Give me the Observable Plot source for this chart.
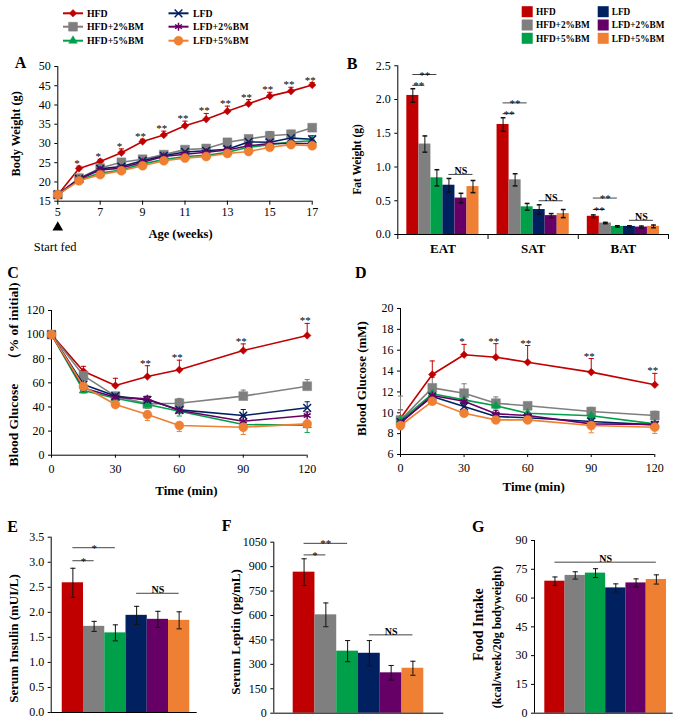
<!DOCTYPE html>
<html><head><meta charset="utf-8">
<script src="https://cdn.jsdelivr.net/npm/d3@7"></script>
<script src="https://cdn.jsdelivr.net/npm/@observablehq/plot@0.6"></script>
<style>
html,body{margin:0;padding:0;background:#fff;}
#fig{position:relative;width:683px;height:724px;font-family:"Liberation Serif","Times New Roman",Times,"DejaVu Serif",serif;overflow:hidden;background:#fff;}
.panel{position:absolute;}
.letter{position:absolute;font-weight:bold;font-size:16px;transform:translate(-50%,-50%);line-height:1;}
</style></head><body><div id="fig"></div>
<script>
// ---------- DATA ----------
const groups = ["HFD","HFD+2%BM","HFD+5%BM","LFD","LFD+2%BM","LFD+5%BM"];
const colors = ["#C00000","#7F7F7F","#00A04A","#002060","#660066","#EE7F33"];

// A: body weight
const weeks = [5,6,7,8,9,10,11,12,13,14,15,16,17];
const bwHFD  = [16.7,23.5,25.3,27.6,30.5,32.2,34.6,36.3,38.4,40.3,42.3,43.6,45.2];
const bwHFD2 = [16.7,21.0,23.6,25.1,25.9,27.1,28.4,28.7,30.3,31.2,32.0,32.4,34.1];
const bwHFD5 = [16.7,20.5,22.3,23.1,24.7,25.8,26.6,26.9,27.7,29.0,29.7,30.4,30.7];
const bwLFD  = [16.7,20.8,23.4,24.0,25.5,26.8,27.8,28.1,28.5,30.4,30.3,31.4,31.1];
const bwLFD2 = [16.7,20.7,23.1,23.6,25.1,26.6,27.2,27.7,28.3,29.4,30.0,30.0,30.0];
const bwLFD5 = [16.7,20.3,21.9,22.9,24.2,25.5,26.2,26.6,27.4,27.9,29.0,29.7,29.4];
const bwErrHFD  = [0.5,0.6,0.6,1.0,0.6,1.0,1.2,1.5,1.3,1.1,1.0,1.0,0.6];
const bwErrHFD2 = [0.5,0.6,0.7,0.7,0.6,0.6,0.6,0.7,0.7,0.7,1.1,1.0,0.8];
const bwErrHFD5 = [0.5,0.5,0.5,0.5,0.5,0.5,0.5,0.5,0.5,0.6,0.6,0.6,0.6];
const bwErrLFD  = [0.5,0.8,0.6,0.6,0.6,0.6,0.6,0.7,0.7,0.7,0.8,0.8,0.9];
const bwErrLFD2 = [0.5,0.6,0.6,0.6,0.6,0.6,0.6,0.6,0.6,0.6,0.7,0.7,0.7];
const bwErrLFD5 = [0.5,0.8,0.7,0.6,0.6,0.6,0.6,0.7,0.7,0.7,0.8,0.8,0.8];
const bwSig = ["","*","*","*","**","**","**","**","**","**","**","**","**"];

// B: fat weight
const fatSites = ["EAT","SAT","BAT"];
const eatMean = [2.06,1.34,0.84,0.73,0.54,0.71];
const eatErr  = [0.10,0.12,0.12,0.10,0.07,0.09];
const satMean = [1.63,0.81,0.41,0.37,0.28,0.31];
const satErr  = [0.10,0.09,0.05,0.07,0.03,0.06];
const batMean = [0.27,0.17,0.12,0.12,0.11,0.12];
const batErr  = [0.02,0.01,0.01,0.01,0.015,0.02];
const fatSigSite  = [0,0,0,1,1,1,2,2,2];
const fatSigFrom  = [0,0,3,0,0,3,0,0,3];
const fatSigTo    = [2,1,5,2,1,5,2,1,5];
const fatSigY     = [2.37,2.21,0.89,1.95,1.79,0.50,0.54,0.37,0.21];
const fatSigLabel = ["**","**","NS","**","**","NS","**","**","NS"];

// C: insulin tolerance
const ittTimes = [0,15,30,45,60,90,120];
const ittHFD  = [100,69.7,57.8,65.2,70.8,86.8,99.3];
const ittHFD2 = [100,66.0,49.0,42.6,43.1,49.0,57.2];
const ittHFD5 = [100,53.6,47.3,42.0,36.5,25.4,24.9];
const ittLFD  = [100,58.6,49.0,45.9,37.6,32.9,39.3];
const ittLFD2 = [100,55.8,48.0,46.7,37.0,28.2,32.9];
const ittLFD5 = [100,57.0,42.0,33.7,24.6,23.2,26.0];
const ittErrHFD  = [0,4,6,9,8,5.5,10];
const ittErrHFD2 = [0,4,3,3,4,5,5.5];
const ittErrHFD5 = [0,2,2,3,4,4,6];
const ittErrLFD  = [0,3,3,3,3,5,5];
const ittErrLFD2 = [0,3,2,2,3,4,3];
const ittErrLFD5 = [0,3,2,5,5,6,3];
const ittSig = ["","","","**","**","**","**"];

// D: glucose tolerance
const gttTimes = [0,15,30,45,60,90,120];
const gttHFD  = [9.48,13.67,15.56,15.33,14.85,13.90,12.68];
const gttHFD2 = [9.30,12.39,11.88,10.92,10.67,10.12,9.74];
const gttHFD5 = [9.26,11.82,11.24,10.67,9.96,9.71,8.94];
const gttLFD  = [9.10,11.56,10.60,9.64,9.52,9.16,8.84];
const gttLFD2 = [9.00,11.66,11.10,9.90,9.74,8.94,8.88];
const gttLFD5 = [8.78,11.10,9.96,9.32,9.32,8.78,8.62];
const gttErrHFD  = [0.8,1.3,1.0,1.3,1.6,1.3,1.1];
const gttErrHFD2 = [2.3,1.0,0.9,0.6,0.3,0.4,0.4];
const gttErrHFD5 = [0.4,0.3,0.3,0.3,0.3,0.3,0.3];
const gttErrLFD  = [0.5,0.3,0.3,0.3,0.3,0.3,0.3];
const gttErrLFD2 = [0.4,0.3,0.3,0.3,0.3,0.3,0.3];
const gttErrLFD5 = [0.4,0.3,0.3,0.3,0.3,0.7,0.6];
const gttSig = ["","","*","**","**","**","**"];

// E: insulin
const insulinMean = [2.59,1.72,1.59,1.94,1.86,1.84];
const insulinErr  = [0.29,0.10,0.16,0.18,0.16,0.17];
const insulinSigFrom = [0,0,3], insulinSigTo = [2,1,5];
const insulinSigY = [3.29,3.03,2.38], insulinSigLabel = ["*","*","NS"];
// F: leptin
const leptinMean = [866,604,381,368,248,276];
const leptinErr  = [82,73,65,78,45,43];
const leptinSigFrom = [0,0,3], leptinSigTo = [2,1,5];
const leptinSigY = [1043,972,481], leptinSigLabel = ["**","*","NS"];
// G: food intake
const intakeMean = [68.8,71.8,73.0,65.3,67.9,69.7];
const intakeErr  = [2.2,1.9,2.3,2.1,2.1,2.4];
const intakeSigFrom = [0], intakeSigTo = [5], intakeSigY = [78.7], intakeSigLabel = ["NS"];

// ---------- STYLE CONFIG ----------
const FONT = '"Liberation Serif","Times New Roman",Times,"DejaVu Serif",serif';
const errDir = [1,1,-1,1,1,-1];
const symSpec = [
  {symbol:"diamond2", r:3.4, filled:true},
  {symbol:"square", r:5, filled:true},
  {symbol:"triangle", r:3.2, filled:true},
  {symbol:"times", r:3.6, filled:false},
  {symbol:"asterisk", r:3.8, filled:false},
  {symbol:"circle", r:4.5, filled:true}
];
const capSym = {draw(ctx, size){ const w = Math.sqrt(size/Math.PI); ctx.moveTo(-w,0); ctx.lineTo(w,0); }};
const fig = document.getElementById("fig");

function place(el, left, top){
  const d = document.createElement("div");
  d.className = "panel"; d.style.left = left+"px"; d.style.top = top+"px";
  d.appendChild(el); fig.appendChild(d);
}
function letter(t, x, y){
  const d = document.createElement("div");
  d.className = "letter"; d.textContent = t; d.style.left = x+"px"; d.style.top = y+"px";
  fig.appendChild(d);
}
const baseStyle = {fontFamily: FONT, fontSize: "12px", background: "transparent", overflow: "visible", color: "#000"};

function lineMarks(xs, series, errs, sig){
  const marks = [];
  const all = series.map((vals,g) => vals.map((v,i) => ({x: xs[i], y: v, e: errs[g][i], top: v + errDir[g]*errs[g][i]})));
  all.forEach((rows,g) => {
    marks.push(Plot.ruleX(rows, {x:"x", y1:"y", y2:"top", stroke: colors[g], strokeWidth: 1}));
    marks.push(Plot.dot(rows, {x:"x", y:"top", symbol: capSym, r: 2.6, stroke: colors[g], fill: "none", strokeWidth: 1}));
  });
  all.forEach((rows,g) => {
    marks.push(Plot.line(rows, {x:"x", y:"y", stroke: colors[g], strokeWidth: 1.6}));
    const s = symSpec[g];
    marks.push(Plot.dot(rows, s.filled
      ? {x:"x", y:"y", symbol: s.symbol, r: s.r, fill: colors[g], stroke: colors[g], strokeWidth: 0.5}
      : {x:"x", y:"y", symbol: s.symbol, r: s.r, fill: "none", stroke: colors[g], strokeWidth: 1.5}));
  });
  const sigRows = all[0].map((d,i) => ({...d, s: sig[i]})).filter(d => d.s);
  marks.push(Plot.text(sigRows, {x:"x", y:"top", text:"s", lineAnchor:"bottom", dy: 1, dx: -2, fontSize: 11}));
  return marks;
}

function barMarks(means, errs, sigFrom, sigTo, sigY, sigLabel){
  const rows = means.map((v,i) => ({i, g: groups[i], v, e: errs[i]}));
  const sig = sigY.map((y,k) => ({x1: sigFrom[k], x2: sigTo[k], y, mid: (sigFrom[k]+sigTo[k])/2, label: sigLabel[k]}));
  return [
    Plot.rect(rows, {x1: d => d.i - 0.5, x2: d => d.i + 0.5, y1: 0, y2: "v", fill: "g"}),
    Plot.ruleX(rows, {x:"i", y1: d => d.v - d.e, y2: d => d.v + d.e, stroke: "#111", strokeWidth: 1}),
    Plot.dot(rows, {x:"i", y: d => d.v + d.e, symbol: capSym, r: 2.6, stroke: "#111", fill:"none", strokeWidth: 1}),
    Plot.dot(rows, {x:"i", y: d => d.v - d.e, symbol: capSym, r: 2.6, stroke: "#111", fill:"none", strokeWidth: 1}),
    Plot.ruleY(sig, {y:"y", x1:"x1", x2:"x2", stroke:"#444", strokeWidth: 1}),
    Plot.text(sig.filter(d => d.label !== "NS"), {x:"mid", y:"y", text:"label", textAnchor:"middle", lineAnchor:"bottom", dy: 4, fontSize: 11}),
    Plot.text(sig.filter(d => d.label === "NS"), {x:"mid", y:"y", text:"label", textAnchor:"middle", lineAnchor:"bottom", dy: 0, fontSize: 10, fontWeight:"bold"})
  ];
}
function yTitle(t, dx, dy, size){
  return Plot.text([t], {text: d => d, frameAnchor: "left", textAnchor: "middle", lineAnchor: "middle", rotate: -90, dx, dy, fontWeight: "bold", fontSize: size});
}
function xTitle(t, dx, dy, size){
  return Plot.text([t], {text: d => d, frameAnchor: "bottom", textAnchor: "middle", lineAnchor: "middle", dx, dy, fontWeight: "bold", fontSize: size});
}

// ---------- LEGEND A ----------
{
  const svg = d3.create("svg").attr("width", 320).attr("height", 50).attr("font-family", FONT);
  groups.forEach((g,i) => {
    const cx = i < 3 ? 73 : 178.5, tx = i < 3 ? 87 : 193, y = [13.3,26.7,40.7][i%3];
    svg.append("line").attr("x1", cx-10).attr("x2", cx+10).attr("y1", y).attr("y2", y).attr("stroke", colors[i]).attr("stroke-width", 2);
    const s = symSpec[i];
    const type = {diamond2: d3.symbolDiamond2, square: d3.symbolSquare, triangle: d3.symbolTriangle, times: d3.symbolTimes, asterisk: d3.symbolAsterisk, circle: d3.symbolCircle}[s.symbol];
    svg.append("path").attr("d", d3.symbol(type, Math.PI*s.r*s.r)()).attr("transform", `translate(${cx},${y})`)
      .attr("fill", s.filled ? colors[i] : "none").attr("stroke", colors[i]).attr("stroke-width", s.filled ? 0.5 : 1.5);
    svg.append("text").attr("x", tx).attr("y", y).attr("dy", "0.35em").attr("font-size", 9.8).attr("font-weight", "bold").text(g);
  });
  place(svg.node(), 0, 0);
}
// ---------- LEGEND B ----------
{
  const svg = d3.create("svg").attr("width", 200).attr("height", 50).attr("font-family", FONT);
  groups.forEach((g,i) => {
    const sx = i < 3 ? 521.7 : 597.7, tx = i < 3 ? 536 : 611.7, y = [11.7,25,38.3][i%3];
    svg.append("rect").attr("x", sx-490).attr("y", y-5.5).attr("width", 11).attr("height", 11).attr("fill", colors[i]);
    svg.append("text").attr("x", tx-490).attr("y", y).attr("dy", "0.35em").attr("font-size", 9.3).attr("font-weight", "bold").text(g);
  });
  place(svg.node(), 490, 0);
}

// ---------- PANEL A ----------
place(Plot.plot({
  width: 340, height: 212, marginTop: 16, marginLeft: 57.3, marginRight: 28.3, marginBottom: 61.3,
  style: baseStyle,
  x: {domain: [5,17]}, y: {domain: [15,50]},
  marks: [
    Plot.ruleY([15], {stroke:"#000"}), Plot.ruleX([5], {stroke:"#000"}),
    Plot.axisY(d3.range(15,51,5), {tickSize: 3, tickPadding: 4, label: null, fontSize: 12}),
    Plot.axisX(d3.range(5,18,2), {tickSize: 4, tickPadding: 2, label: null, fontSize: 12}),
    ...lineMarks(weeks, [bwHFD,bwHFD2,bwHFD5,bwLFD,bwLFD2,bwLFD5], [bwErrHFD,bwErrHFD2,bwErrHFD5,bwErrLFD,bwErrLFD2,bwErrLFD5], bwSig),
    yTitle("Body Weight (g)", -41.3, 0, 12.3),
    xTitle("Age (weeks)", -4.5, 32.3, 12.5),
    Plot.dot([weeks[0]], {x: d => d, frameAnchor: "bottom", dy: 26.3, symbol: "triangle", r: 3, fill: "#000", stroke: "#000"}),
    Plot.text(["Start fed"], {x: () => weeks[0], text: d => d, frameAnchor: "bottom", textAnchor: "middle", lineAnchor: "middle", dy: 45.3, dx: -2.6, fontSize: 12.5})
  ]
}), 0, 50);

// ---------- PANEL B ----------
{
  const step = 0.8/6;
  const fatMeans = [eatMean, satMean, batMean], fatErrs = [eatErr, satErr, batErr];
  const rows = fatMeans.flatMap((arr,c) => arr.map((v,g) => ({c, g: groups[g], gi: g, v, e: fatErrs[c][g], x1: c + 0.1 + g*step})));
  const center = (c,g) => c + 0.1 + (g+0.5)*step;
  const sig = fatSigY.map((y,k) => ({y, x1: center(fatSigSite[k], fatSigFrom[k]), x2: center(fatSigSite[k], fatSigTo[k]), label: fatSigLabel[k]}));
  sig.forEach(d => d.mid = (d.x1+d.x2)/2);
  place(Plot.plot({
    width: 343, height: 212, marginTop: 15.25, marginLeft: 57.3, marginRight: 15, marginBottom: 28,
    style: baseStyle,
    x: {domain: [0,3]}, y: {domain: [0,2.5]},
    color: {domain: groups, range: colors},
    marks: [
      Plot.rect(rows, {x1: "x1", x2: d => d.x1 + step, y1: 0, y2: "v", fill: "g"}),
      Plot.ruleX(rows, {x: d => d.x1 + step/2, y1: d => d.v - d.e, y2: d => d.v + d.e, stroke:"#111"}),
      Plot.dot(rows, {x: d => d.x1 + step/2, y: d => d.v + d.e, symbol: capSym, r: 2.4, stroke:"#111", fill:"none"}),
      Plot.dot(rows, {x: d => d.x1 + step/2, y: d => d.v - d.e, symbol: capSym, r: 2.4, stroke:"#111", fill:"none"}),
      Plot.ruleY([0], {stroke:"#000"}), Plot.ruleX([0], {stroke:"#000"}),
      Plot.axisX([0,1,2,3], {tickSize: 5, tickFormat: () => "", label: null}),
      Plot.axisY(d3.range(0,2.51,0.5), {tickSize: 3, tickPadding: 4, tickFormat: d3.format(".1f"), label: null, fontSize: 12}),
      Plot.text(fatSites.map((s,c) => ({s, c: c+0.5})), {x:"c", text:"s", frameAnchor:"bottom", textAnchor:"middle", lineAnchor:"middle", dy: 14, fontWeight:"bold", fontSize: 13}),
      Plot.ruleY(sig, {y:"y", x1:"x1", x2:"x2", stroke:"#444"}),
      Plot.text(sig.filter(d => d.label !== "NS"), {x:"mid", y:"y", text:"label", textAnchor:"middle", lineAnchor:"bottom", dy: 4, fontSize: 11}),
      Plot.text(sig.filter(d => d.label === "NS"), {x:"mid", y:"y", text:"label", textAnchor:"middle", lineAnchor:"bottom", dy: 0, fontSize: 10, fontWeight:"bold"}),
      yTitle("Fat Weight (g)", -40.6, 9.4, 11.5)
    ]
  }), 340, 50);
}

// ---------- PANEL C ----------
place(Plot.plot({
  width: 340, height: 235, marginTop: 45, marginLeft: 51, marginRight: 33.3, marginBottom: 45.3,
  style: baseStyle,
  x: {domain: [0,120]}, y: {domain: [0,120]},
  marks: [
    Plot.ruleY([0], {stroke:"#000"}), Plot.ruleX([0], {stroke:"#000"}),
    Plot.axisY(d3.range(0,121,20), {tickSize: 3, tickPadding: 4, label: null, fontSize: 12}),
    Plot.axisX([0,30,60,90,120], {tickSize: 3, tickPadding: 6, label: null, fontSize: 12}),
    ...lineMarks(ittTimes, [ittHFD,ittHFD2,ittHFD5,ittLFD,ittLFD2,ittLFD5], [ittErrHFD,ittErrHFD2,ittErrHFD5,ittErrLFD,ittErrLFD2,ittErrLFD5], ittSig),
    yTitle("Blood Glucose \u3000（% of initial)", -38, -8.3, 13.5),
    xTitle("Time (min)", 7, 35.3, 13)
  ]
}), 0, 265);

// ---------- PANEL D ----------
place(Plot.plot({
  width: 343, height: 235, marginTop: 43, marginLeft: 60, marginRight: 28.7, marginBottom: 46,
  style: baseStyle,
  x: {domain: [0,120]}, y: {domain: [6,20]},
  marks: [
    Plot.ruleY([6], {stroke:"#000"}), Plot.ruleX([0], {stroke:"#000"}),
    Plot.axisY(d3.range(6,21,2), {tickSize: 3, tickPadding: 4, label: null, fontSize: 12}),
    Plot.axisX([0,30,60,90,120], {tickSize: 3, tickPadding: 6, label: null, fontSize: 12}),
    ...lineMarks(gttTimes, [gttHFD,gttHFD2,gttHFD5,gttLFD,gttLFD2,gttLFD5], [gttErrHFD,gttErrHFD2,gttErrHFD5,gttErrLFD,gttErrLFD2,gttErrLFD5], gttSig),
    yTitle("Blood Glucose (mM)", -38.3, -3, 13),
    xTitle("Time (min)", 6, 32.7, 13)
  ]
}), 340, 265);

// ---------- PANEL E ----------
place(Plot.plot({
  width: 225, height: 204, marginTop: 16.7, marginLeft: 50.7, marginRight: 28.3, marginBottom: 12,
  style: baseStyle,
  x: {domain: [-1.02, 5.85], axis: null}, y: {domain: [0,3.5]},
  color: {domain: groups, range: colors},
  marks: [
    ...barMarks(insulinMean, insulinErr, insulinSigFrom, insulinSigTo, insulinSigY, insulinSigLabel),
    Plot.ruleY([0], {stroke:"#000"}), Plot.ruleX([-1.02], {stroke:"#000"}),
    Plot.axisY(d3.range(0,3.51,0.5), {tickSize: 3, tickPadding: 4, tickFormat: d3.format(".1f"), label: null, fontSize: 12}),
    yTitle("Serum Insulin (mUI/L)", -37.4, 13.6, 13)
  ]
}), 0, 520);

// ---------- PANEL F ----------
place(Plot.plot({
  width: 230, height: 204, marginTop: 21.7, marginLeft: 48.3, marginRight: 11.7, marginBottom: 11.3,
  style: baseStyle,
  x: {domain: [-1.391, 6.419], axis: null}, y: {domain: [0,1050]},
  color: {domain: groups, range: colors},
  marks: [
    ...barMarks(leptinMean, leptinErr, leptinSigFrom, leptinSigTo, leptinSigY, leptinSigLabel),
    Plot.ruleY([0], {stroke:"#000"}), Plot.ruleX([-1.391], {stroke:"#000"}),
    Plot.axisY(d3.range(0,1051,150), {tickSize: 3, tickPadding: 4, tickFormat: d3.format("d"), label: null, fontSize: 12}),
    yTitle("Serum Leptin (pg/mL)", -38.3, 4.3, 13)
  ]
}), 225, 520);

// ---------- PANEL G ----------
place(Plot.plot({
  width: 233, height: 204, marginTop: 20, marginLeft: 84, marginRight: 10.3, marginBottom: 11.3,
  style: baseStyle,
  x: {domain: [-1.008, 5.83], axis: null}, y: {domain: [0,90]},
  color: {domain: groups, range: colors},
  marks: [
    ...barMarks(intakeMean, intakeErr, intakeSigFrom, intakeSigTo, intakeSigY, intakeSigLabel),
    Plot.ruleY([0], {stroke:"#000"}), Plot.ruleX([-1.008], {stroke:"#000"}),
    Plot.axisY(d3.range(0,91,15), {tickSize: 3, tickPadding: 4, label: null, fontSize: 12}),
    yTitle("Food Intake", -56, -2.3, 14),
    yTitle("(kcal/week/20g bodyweight)", -37.3, 10.3, 12)
  ]
}), 450, 520);

letter("A", 20.5, 63); letter("B", 352, 64); letter("C", 13, 273); letter("D", 360.7, 273);
letter("E", 12.7, 526.7); letter("F", 226.7, 526); letter("G", 478.3, 526.7);
</script></body></html>
